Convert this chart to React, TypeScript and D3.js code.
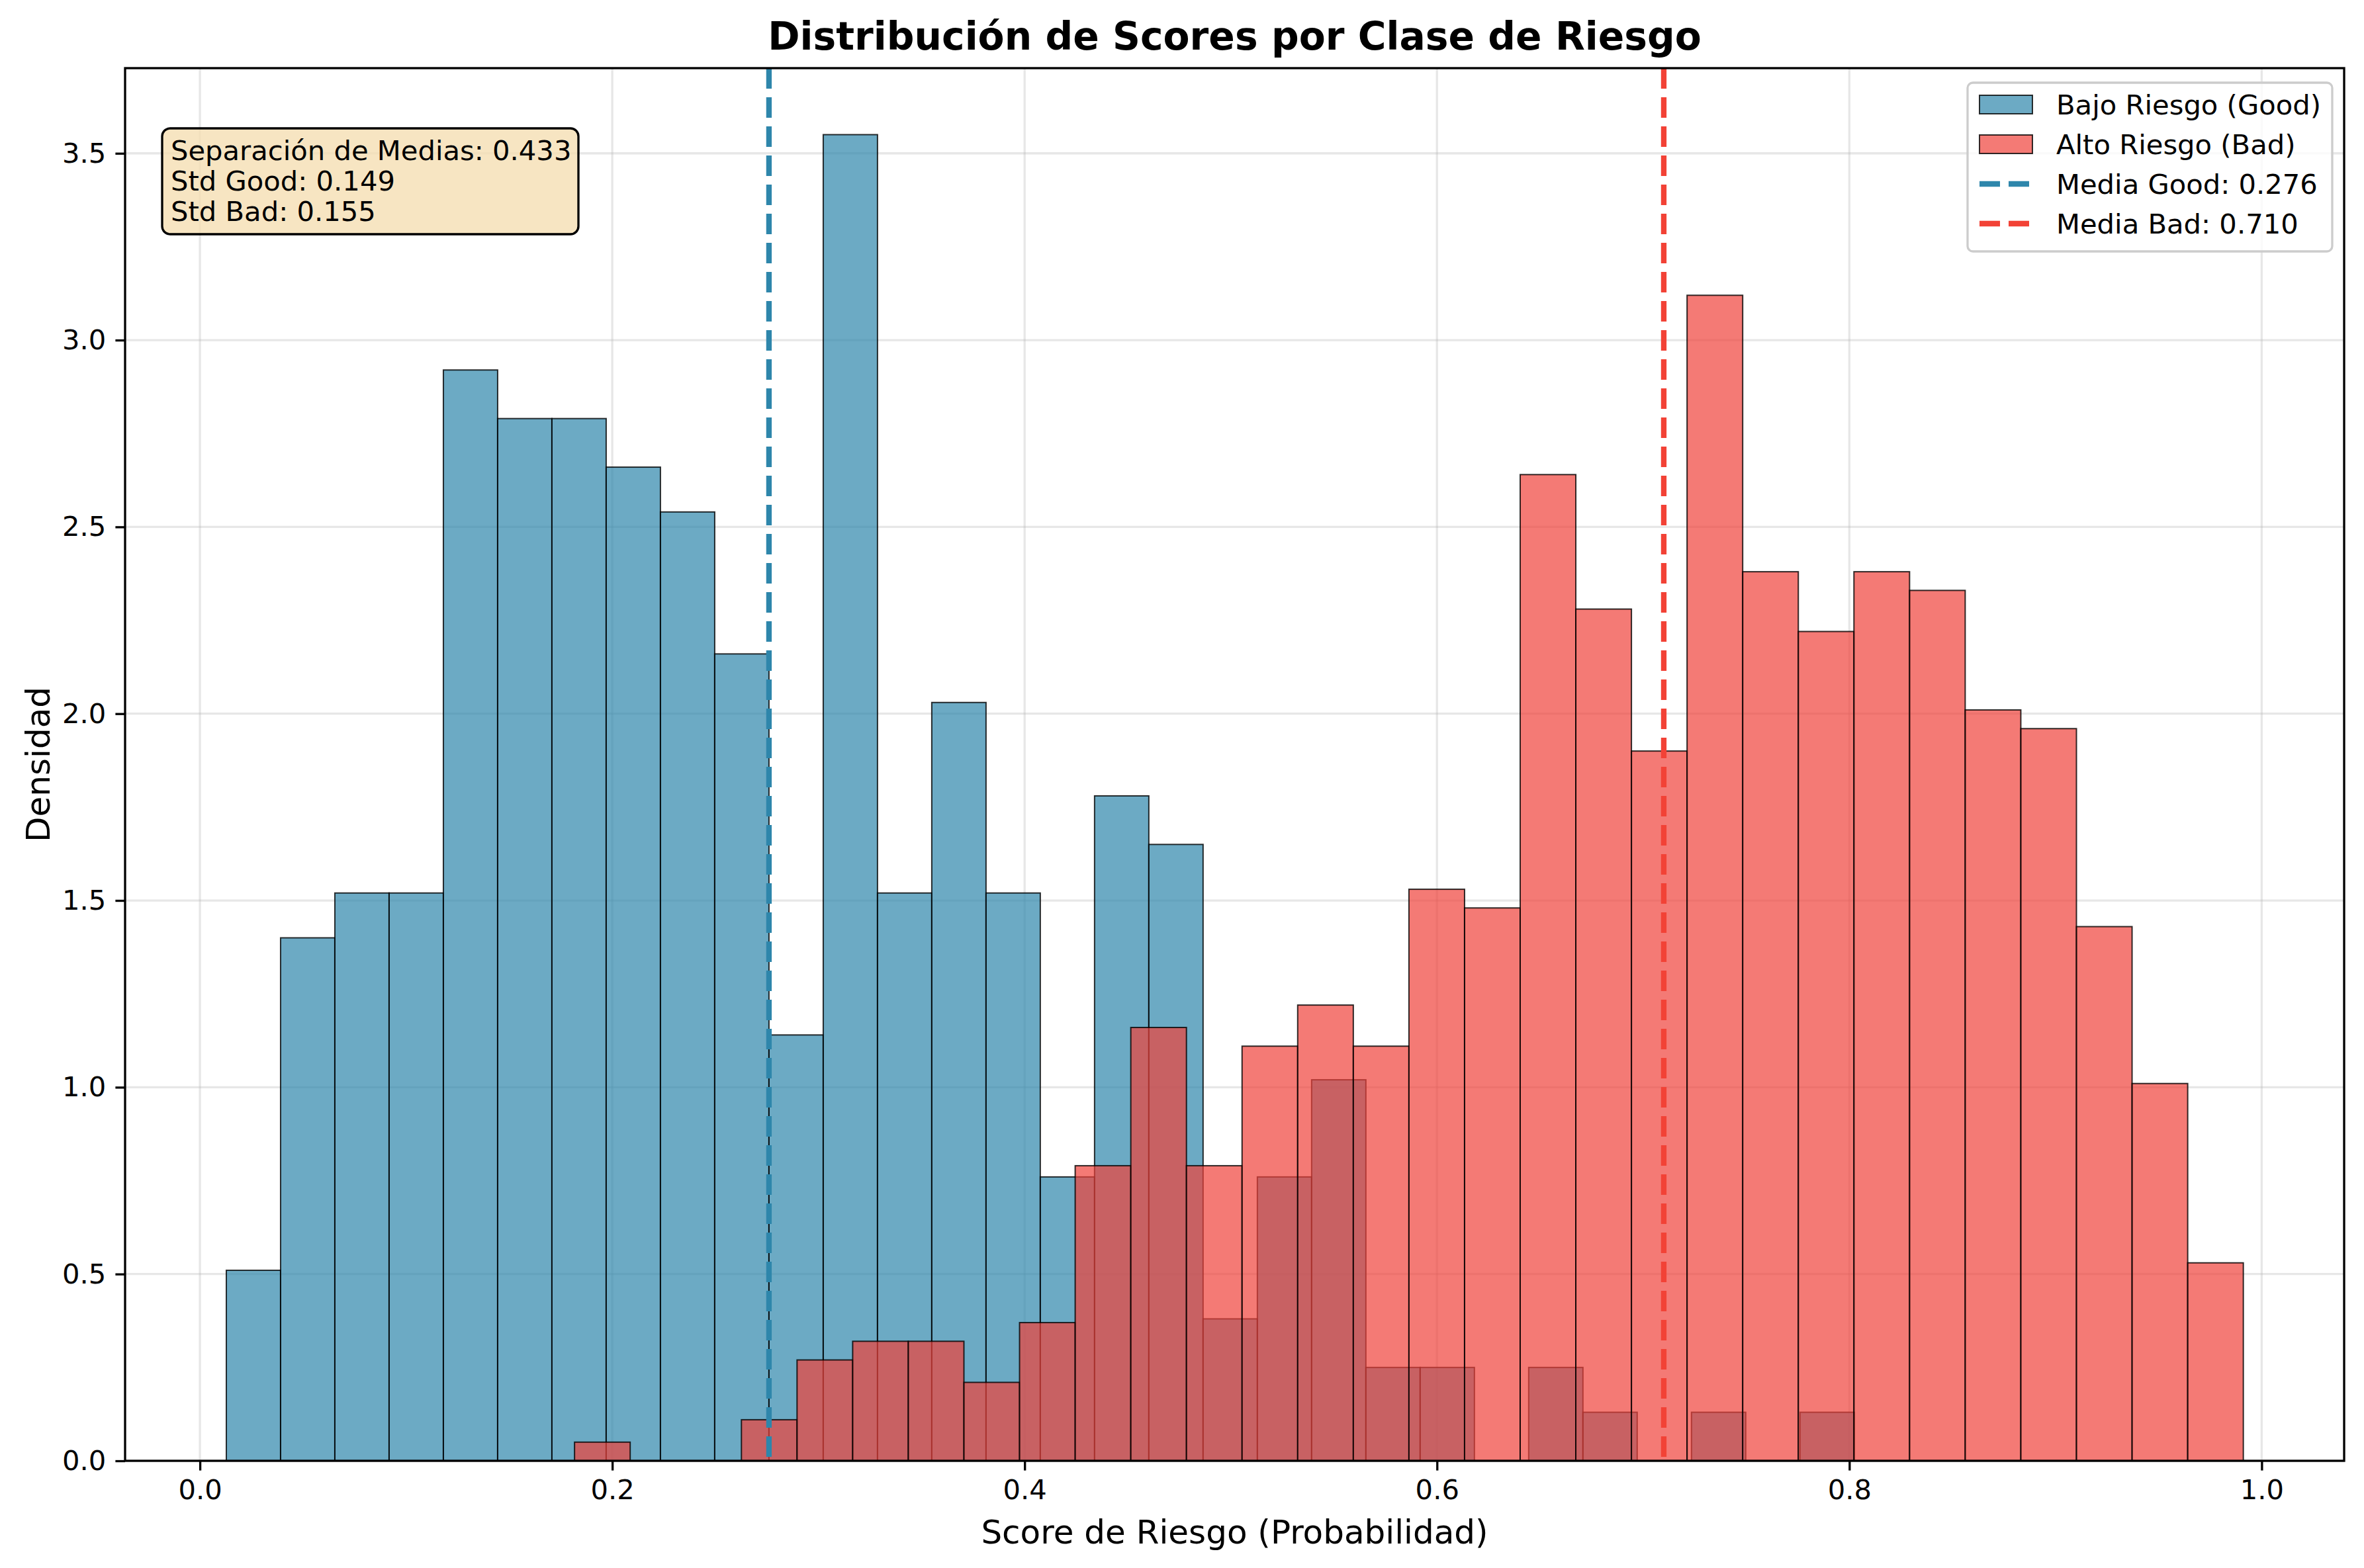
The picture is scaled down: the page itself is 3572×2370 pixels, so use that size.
import { useEffect, useRef } from 'react';
import * as d3 from 'd3';

// histogram densities
const goodStart = 0.0128;
const goodWidth = 0.02632;
const goodDensity = [0.51, 1.40, 1.52, 1.52, 2.92, 2.79, 2.79, 2.66, 2.54, 2.16,
  1.14, 3.55, 1.52, 2.03, 1.52, 0.76, 1.78, 1.65, 0.38, 0.76,
  1.02, 0.25, 0.25, 0, 0.25, 0.13, 0, 0.13, 0, 0.13];
const badStart = 0.1817;
const badWidth = 0.02698;
const badDensity = [0.05, 0, 0, 0.11, 0.27, 0.32, 0.32, 0.21, 0.37, 0.79,
  1.16, 0.79, 1.11, 1.22, 1.11, 1.53, 1.48, 2.64, 2.28, 1.90,
  3.12, 2.38, 2.22, 2.38, 2.33, 2.01, 1.96, 1.43, 1.01, 0.53];
const meanGood = 0.276;
const meanBad = 0.710;
const statsLines = ['Separación de Medias: 0.433', 'Std Good: 0.149', 'Std Bad: 0.155'];
const xTicks = [0, 0.2, 0.4, 0.6, 0.8, 1.0];
const yTicks = [0, 0.5, 1, 1.5, 2, 2.5, 3, 3.5];

const BLUE = '#2E86AB';
const RED = '#F0413A';
const RED_LINE = '#F24236';

export default function App() {
  const ref = useRef<SVGSVGElement>(null);

  useEffect(() => {
    document.body.style.margin = '0';
    const svg = d3.select(ref.current);
    svg.selectAll('*').remove();
    const W = 3572, H = 2370;
    const m = { left: 189, right: 3542, top: 103, bottom: 2208 };
    const font = 'DejaVu Sans, sans-serif';

    const x = d3.scaleLinear().domain([-0.0363, 1.0400]).range([m.left, m.right]);
    const y = d3.scaleLinear().domain([0, 3.728]).range([m.bottom, m.top]);

    svg.append('rect').attr('width', W).attr('height', H).attr('fill', 'white');

    // grid
    const grid = svg.append('g').attr('stroke', '#b0b0b0').attr('stroke-opacity', 0.3).attr('stroke-width', 3.3);
    xTicks.forEach(t => grid.append('line').attr('x1', x(t)).attr('x2', x(t)).attr('y1', m.top).attr('y2', m.bottom));
    yTicks.forEach(t => grid.append('line').attr('y1', y(t)).attr('y2', y(t)).attr('x1', m.left).attr('x2', m.right));

    const drawHist = (start: number, w: number, vals: number[], color: string) => {
      svg.append('g').selectAll('rect').data(vals.map((v, i) => ({ v, x0: start + i * w })).filter(d => d.v > 0))
        .enter().append('rect')
        .attr('x', d => x(d.x0)).attr('width', d => x(d.x0 + w) - x(d.x0))
        .attr('y', d => y(d.v)).attr('height', d => y(0) - y(d.v))
        .attr('fill', color).attr('fill-opacity', 0.7)
        .attr('stroke', 'black').attr('stroke-opacity', 0.8).attr('stroke-width', 2);
    };
    drawHist(goodStart, goodWidth, goodDensity, BLUE);
    drawHist(badStart, badWidth, badDensity, RED);

    // mean lines
    [[meanGood, BLUE], [meanBad, RED_LINE]].forEach(([v, c]) => {
      svg.append('line').attr('x1', x(v as number)).attr('x2', x(v as number))
        .attr('y1', m.top).attr('y2', m.bottom)
        .attr('stroke', c as string).attr('stroke-width', 8.3).attr('stroke-dasharray', '31,13');
    });

    // frame
    svg.append('rect').attr('x', m.left).attr('y', m.top).attr('width', m.right - m.left).attr('height', m.bottom - m.top)
      .attr('fill', 'none').attr('stroke', 'black').attr('stroke-width', 3.3);

    // axes
    const xa = svg.append('g').attr('transform', `translate(0,${m.bottom})`)
      .call(d3.axisBottom(x).tickValues(xTicks).tickFormat(d3.format('.1f')).tickSize(14.6).tickPadding(14));
    const ya = svg.append('g').attr('transform', `translate(${m.left},0)`)
      .call(d3.axisLeft(y).tickValues(yTicks).tickFormat(d3.format('.1f')).tickSize(14.6).tickPadding(14));
    [xa, ya].forEach(a => {
      a.select('.domain').remove();
      a.selectAll('line').attr('stroke-width', 3.3);
      a.selectAll('text').attr('font-size', 41.7).attr('font-family', font);
    });

    svg.append('text').attr('x', (m.left + m.right) / 2).attr('y', 75).attr('text-anchor', 'middle')
      .attr('font-family', font).attr('font-weight', 'bold').attr('font-size', 58.3)
      .text('Distribución de Scores por Clase de Riesgo');
    svg.append('text').attr('x', (m.left + m.right) / 2).attr('y', 2333).attr('text-anchor', 'middle')
      .attr('font-family', font).attr('font-size', 50).text('Score de Riesgo (Probabilidad)');
    svg.append('text').attr('transform', `translate(75,${(m.top + m.bottom) / 2}) rotate(-90)`).attr('text-anchor', 'middle')
      .attr('font-family', font).attr('font-size', 50).text('Densidad');

    // stats box
    svg.append('rect').attr('x', 245).attr('y', 194).attr('width', 629).attr('height', 160).attr('rx', 12)
      .attr('fill', '#F5DEB3').attr('fill-opacity', 0.8).attr('stroke', 'black').attr('stroke-width', 3.3);
    statsLines.forEach((s, i) => {
      svg.append('text').attr('x', 258).attr('y', 242 + i * 46).attr('font-family', font).attr('font-size', 41.7).text(s);
    });

    // legend
    svg.append('rect').attr('x', 2973).attr('y', 125).attr('width', 551).attr('height', 255).attr('rx', 8)
      .attr('fill', 'white').attr('fill-opacity', 0.8).attr('stroke', '#cccccc').attr('stroke-width', 3.3);
    const items = [
      { label: 'Bajo Riesgo (Good)', type: 'patch', color: BLUE },
      { label: 'Alto Riesgo (Bad)', type: 'patch', color: RED },
      { label: `Media Good: ${meanGood.toFixed(3)}`, type: 'line', color: BLUE },
      { label: `Media Bad: ${meanBad.toFixed(3)}`, type: 'line', color: RED_LINE },
    ];
    items.forEach((it, i) => {
      const cy = 158 + i * 60;
      if (it.type === 'patch') {
        svg.append('rect').attr('x', 2991).attr('y', cy - 14).attr('width', 80).attr('height', 28)
          .attr('fill', it.color).attr('fill-opacity', 0.7).attr('stroke', 'black').attr('stroke-opacity', 0.8).attr('stroke-width', 2);
      } else {
        svg.append('line').attr('x1', 2991).attr('x2', 3071).attr('y1', cy).attr('y2', cy)
          .attr('stroke', it.color).attr('stroke-width', 8.3).attr('stroke-dasharray', '31,13');
      }
      svg.append('text').attr('x', 3107).attr('y', cy + 15).attr('font-family', font).attr('font-size', 41.7).text(it.label);
    });
  }, []);

  return <svg ref={ref} width={3572} height={2370} style={{ display: 'block' }} />;
}
